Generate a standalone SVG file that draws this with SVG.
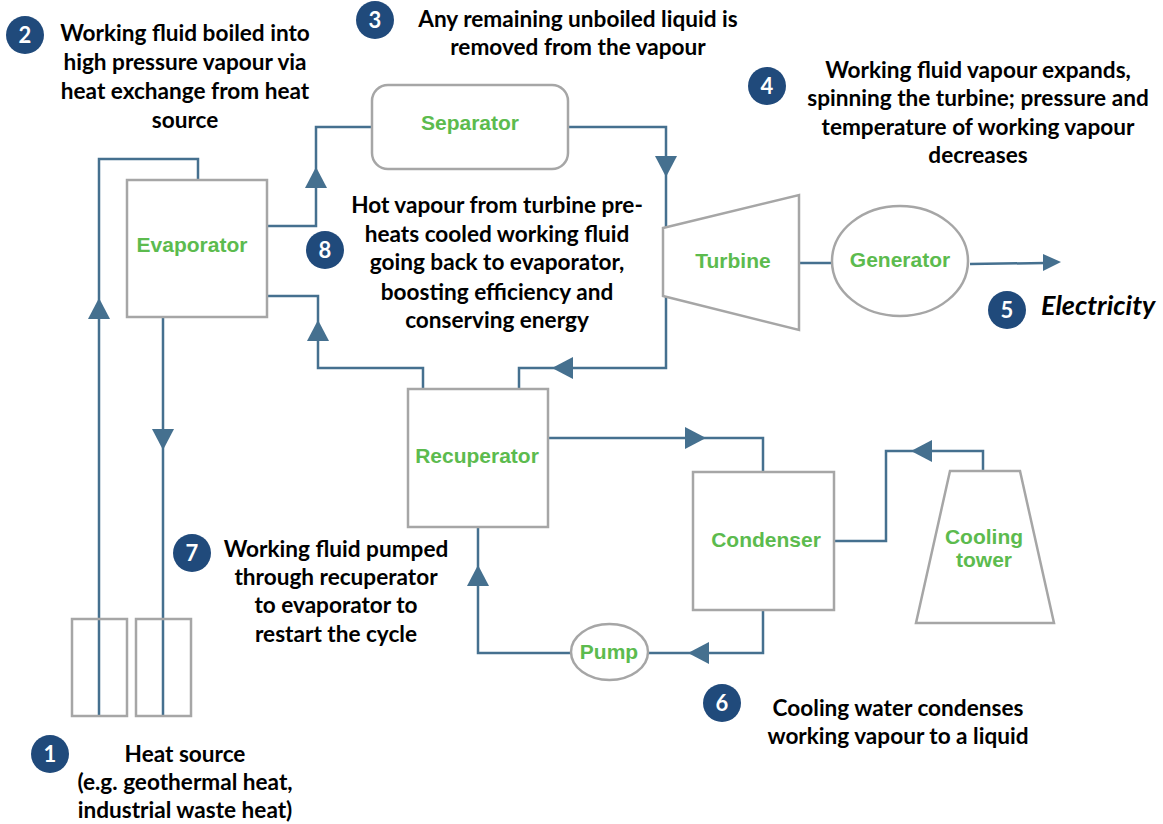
<svg xmlns="http://www.w3.org/2000/svg" width="1163" height="824" viewBox="0 0 1163 824">
<style>
.node{fill:#fff;stroke:#a6a6a6;stroke-width:2.5}
.lbl{font-family:"Liberation Sans",Arial,sans-serif;font-weight:bold;font-size:21px;fill:#5cbb4e;text-anchor:middle}
.pipe{fill:none;stroke:#45708f;stroke-width:2.5}
.ah{fill:#45708f}
.note{font-family:Lato,"Liberation Sans",sans-serif;font-weight:bold;font-size:22.6px;fill:#000;text-anchor:middle}
.badge circle{fill:#204a7b}
.badge text{font-family:Lato,"Liberation Sans",sans-serif;font-weight:bold;font-size:22px;fill:#fff;text-anchor:middle}
</style>
<defs>
<path id="ah" d="M0,0 L-21,-11 L-21,11 Z"/>
</defs>
<rect width="1163" height="824" fill="#fff"/>

<g id="connectors">
<path class="pipe" d="M99,716 V159 H198 V180"/>
<path class="pipe" d="M163,318 V716"/>
<path class="pipe" d="M267,226 H316 V127 H373"/>
<path class="pipe" d="M568,127 H666 V227"/>
<path class="pipe" d="M666,297 V368 H519 V389"/>
<path class="pipe" d="M267,296 H318 V368 H423 V389"/>
<path class="pipe" d="M548,438 H763 V472"/>
<path class="pipe" d="M763,610 V653 H648"/>
<path class="pipe" d="M571,653 H478 V527"/>
<path class="pipe" d="M834,541 H886 V451 H983 V471"/>
<path class="pipe" d="M799,263 H832"/>
<path class="pipe" d="M970,264 L1045,263"/>
<g class="ah">
<use href="#ah" transform="translate(99,298) rotate(-90)"/>
<use href="#ah" transform="translate(163,450) rotate(90)"/>
<use href="#ah" transform="translate(316,167) rotate(-90)"/>
<use href="#ah" transform="translate(666,177) rotate(90)"/>
<use href="#ah" transform="translate(318,320) rotate(-90)"/>
<use href="#ah" transform="translate(552,368) rotate(180)"/>
<use href="#ah" transform="translate(706,438)"/>
<use href="#ah" transform="translate(688,653) rotate(180)"/>
<use href="#ah" transform="translate(478,565) rotate(-90)"/>
<use href="#ah" transform="translate(911,451) rotate(180)"/>
<path d="M1061,262 L1043,254 L1043,271 Z"/>
</g>
</g>

<g id="heat-source">
<rect class="node" x="72" y="619" width="55" height="97" style="fill:none"/>
<rect class="node" x="136" y="619" width="55" height="97" style="fill:none"/>
</g>
<g id="evaporator">
<rect class="node" x="127" y="180" width="140" height="137"/>
<text class="lbl" x="192" y="252">Evaporator</text>
</g>
<g id="separator">
<rect class="node" x="372" y="85" width="196" height="84" rx="16"/>
<text class="lbl" x="470" y="130">Separator</text>
</g>
<g id="turbine">
<polygon class="node" points="663,228 799,195 799,330 663,296"/>
<text class="lbl" x="733" y="268">Turbine</text>
</g>
<g id="generator">
<ellipse class="node" cx="900" cy="261" rx="68" ry="55"/>
<text class="lbl" x="900" y="267">Generator</text>
</g>
<g id="recuperator">
<rect class="node" x="408" y="389" width="140" height="138"/>
<text class="lbl" x="477" y="463">Recuperator</text>
</g>
<g id="condenser">
<rect class="node" x="693" y="472" width="141" height="138"/>
<text class="lbl" x="766" y="547">Condenser</text>
</g>
<g id="pump">
<ellipse class="node" cx="609.5" cy="652" rx="38.5" ry="28"/>
<text class="lbl" x="609" y="659">Pump</text>
</g>
<g id="cooling-tower">
<polygon class="node" points="950,471 1020,471 1054,623 916,623"/>
<text class="lbl" x="984" y="544">Cooling</text>
<text class="lbl" x="984" y="567">tower</text>
</g>

<g id="note1">
<g class="badge"><circle cx="50" cy="754" r="19"/><text x="50" y="762">1</text></g>
<text class="note"><tspan x="185" y="762">Heat source</tspan><tspan x="185" y="790">(e.g. geothermal heat,</tspan><tspan x="185" y="818">industrial waste heat)</tspan></text>
</g>
<g id="note2">
<g class="badge"><circle cx="25" cy="35" r="19"/><text x="25" y="43">2</text></g>
<text class="note"><tspan x="185" y="41">Working fluid boiled into</tspan><tspan x="185" y="70">high pressure vapour via</tspan><tspan x="185" y="99">heat exchange from heat</tspan><tspan x="185" y="128">source</tspan></text>
</g>
<g id="note3">
<g class="badge"><circle cx="375" cy="20" r="19"/><text x="375" y="28">3</text></g>
<text class="note"><tspan x="578" y="27">Any remaining unboiled liquid is</tspan><tspan x="578" y="55">removed from the vapour</tspan></text>
</g>
<g id="note4">
<g class="badge"><circle cx="767" cy="86" r="19"/><text x="767" y="94">4</text></g>
<text class="note"><tspan x="978" y="78">Working fluid vapour expands,</tspan><tspan x="978" y="106">spinning the turbine; pressure and</tspan><tspan x="978" y="135">temperature of working vapour</tspan><tspan x="978" y="163">decreases</tspan></text>
</g>
<g id="note5">
<g class="badge"><circle cx="1007" cy="310" r="19"/><text x="1007" y="318">5</text></g>
<text x="1041" y="315" style="font-family:Lato,'Liberation Sans',sans-serif;font-weight:bold;font-style:italic;font-size:27px;fill:#000">Electricity</text>
</g>
<g id="note6">
<g class="badge"><circle cx="722" cy="703" r="19"/><text x="722" y="711">6</text></g>
<text class="note"><tspan x="898" y="716">Cooling water condenses</tspan><tspan x="898" y="744">working vapour to a liquid</tspan></text>
</g>
<g id="note7">
<g class="badge"><circle cx="192" cy="553" r="19"/><text x="192" y="561">7</text></g>
<text class="note"><tspan x="336" y="557">Working fluid pumped</tspan><tspan x="336" y="585">through recuperator</tspan><tspan x="336" y="613">to evaporator to</tspan><tspan x="336" y="642">restart the cycle</tspan></text>
</g>
<g id="note8">
<g class="badge"><circle cx="325" cy="250" r="19"/><text x="325" y="258">8</text></g>
<text class="note"><tspan x="497" y="213">Hot vapour from turbine pre-</tspan><tspan x="497" y="242">heats cooled working fluid</tspan><tspan x="497" y="270">going back to evaporator,</tspan><tspan x="497" y="300">boosting efficiency and</tspan><tspan x="497" y="328">conserving energy</tspan></text>
</g>
</svg>
